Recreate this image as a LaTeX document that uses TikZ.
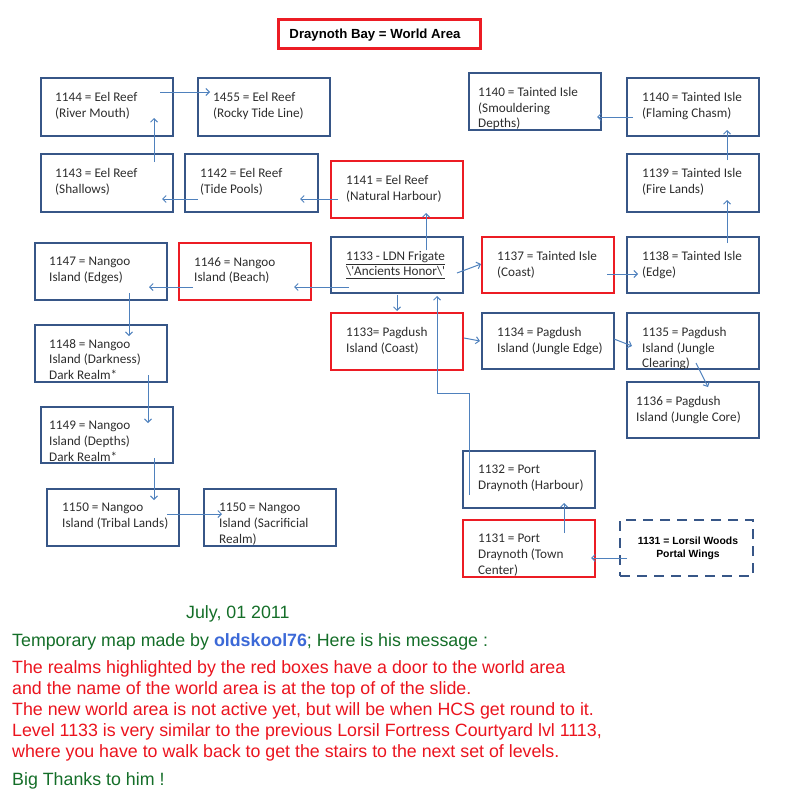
\documentclass[tikz,border=0pt]{standalone}
\usepackage{fontspec}
\setmainfont{Liberation Sans}
\newfontfamily\boxfont{Carlito}
\usetikzlibrary{arrows.meta,fit}
\definecolor{boxblue}{RGB}{55,86,135}
\definecolor{boxred}{RGB}{236,28,36}
\definecolor{arrowblue}{RGB}{79,129,189}
\definecolor{txtgray}{RGB}{45,45,45}
\definecolor{msggreen}{RGB}{20,110,40}
\definecolor{msgred}{RGB}{235,20,30}
\definecolor{msgblue}{RGB}{60,105,215}
\tikzset{
  room/.style={draw=boxblue, line width=2.6pt, inner sep=0pt, outer sep=0pt},
  door/.style={draw=boxred, line width=2.6pt, inner sep=0pt, outer sep=0pt},
  portal/.style={draw=boxblue, line width=2.6pt, dash pattern=on 10pt off 7pt,
    inner sep=0pt, outer sep=0pt},
  portaltxt/.style={inner sep=0pt, align=center, text=black,
    font=\bfseries\fontsize{10.4}{13}\selectfont},
  roomtxt/.style={anchor=north west, inner sep=0pt, align=left, text=txtgray,
    font=\boxfont\fontsize{13.2}{15.7}\selectfont},
  link/.style={draw=arrowblue, line width=1pt, -{Straight Barb[length=3.5pt,width=7pt]}},
  msg/.style={anchor=base west, inner sep=0pt, font=\fontsize{17.8}{21}\selectfont},
}
\newcommand\room[6]{%
  \node[#1, fit={#3 #4}] (#2) {};
  \node[roomtxt] (#2t) at ([shift={(#5,14)}]#2.north west) {#6};
}
\begin{document}
\begin{tikzpicture}[x=1pt, y=-1pt]
\useasboundingbox (0,0) rectangle (800,800);

% title
\node[door, line width=3pt, fit={(278,20) (480,49)}] (title) {};
\node[anchor=base, inner sep=0pt, text=black, font=\bfseries\fontsize{13.2}{15}\selectfont]
  (titlet) at (375,39) {Draynoth Bay = World Area};

% rooms
\room{room}{r1144}{(41,78)}{(173,136)}{14}{1144 = Eel Reef\\(River Mouth)}
\room{room}{r1455}{(198,78)}{(330,136)}{15}{1455 = Eel Reef\\(Rocky Tide Line)}
\room{room}{r1143}{(41,154)}{(173,212)}{14}{1143 = Eel Reef\\(Shallows)}
\room{room}{r1142}{(185,154)}{(318,212)}{15}{1142 = Eel Reef\\(Tide Pools)}
\room{door}{r1141}{(331,161)}{(463,218)}{15}{1141 = Eel Reef\\(Natural Harbour)}
\room{room}{r1140s}{(469,73)}{(601,130)}{9}{1140 = Tainted Isle\\(Smouldering\\Depths)}
\room{room}{r1140f}{(627,78)}{(759,136)}{15}{1140 = Tainted Isle\\(Flaming Chasm)}
\room{room}{r1139}{(627,154)}{(759,212)}{15}{1139 = Tainted Isle\\(Fire Lands)}
\room{room}{r1147}{(35,243)}{(167,300)}{14}{1147 = Nangoo\\Island (Edges)}
\room{door}{r1146}{(179,243)}{(311,300)}{15}{1146 = Nangoo\\Island (Beach)}
\room{room}{rldn}{(331,237)}{(463,293)}{15}{\underline{1133 - LDN Frigate}\\\underline{\textbackslash\textquotesingle Ancients Honor\textbackslash\textquotesingle}}
\room{door}{r1137}{(482,237)}{(614,293)}{15}{1137 = Tainted Isle\\(Coast)}
\room{room}{r1138}{(627,237)}{(759,293)}{15}{1138 = Tainted Isle\\(Edge)}
\room{room}{r1148}{(35,325)}{(167,382)}{14}{1148 = Nangoo\\Island (Darkness)\\Dark Realm*}
\room{door}{r1133}{(331,313)}{(463,370)}{15}{1133= Pagdush\\Island (Coast)}
\room{room}{r1134}{(482,313)}{(614,369)}{15}{1134 = Pagdush\\Island (Jungle Edge)}
\room{room}{r1135}{(627,313)}{(759,369)}{15}{1135 = Pagdush\\Island (Jungle\\Clearing)}
\room{room}{r1136}{(627,382)}{(759,438)}{9}{1136 = Pagdush\\Island (Jungle Core)}
\room{room}{r1149}{(41,407)}{(173,463)}{8}{1149 = Nangoo\\Island (Depths)\\Dark Realm*}
\room{room}{r1150t}{(47,489)}{(179,546)}{15}{1150 = Nangoo\\Island (Tribal Lands)}
\room{room}{r1150s}{(204,489)}{(336,546)}{15}{1150 = Nangoo\\Island (Sacrificial\\Realm)}
\room{room}{r1132}{(463,451)}{(595,508)}{15}{1132 = Port\\Draynoth (Harbour)}
\room{door}{r1131}{(463,520)}{(595,577)}{15}{1131 = Port\\Draynoth (Town\\Center)}
\node[portal, fit={(620,520) (753,576)}] (lorsil) {};
\node[portaltxt] (lorsilt) at (688,548) {1131 = Lorsil Woods\\Portal Wings};

% connector end points
\coordinate (a1s) at (160,92);  \coordinate (a1e) at (210,92);
\coordinate (a2s) at (154,162); \coordinate (a2e) at (154,118);
\coordinate (a3s) at (198,199); \coordinate (a3e) at (162,199);
\coordinate (a4s) at (338,199); \coordinate (a4e) at (300,199);
\coordinate (a5s) at (426,250); \coordinate (a5e) at (426,213);
\coordinate (a6s) at (633,117); \coordinate (a6e) at (597,117);
\coordinate (a7s) at (727,160); \coordinate (a7e) at (727,130);
\coordinate (a8s) at (727,243); \coordinate (a8e) at (727,200);
\coordinate (a9s) at (349,287); \coordinate (a9e) at (294,287);
\coordinate (a10s) at (193,287); \coordinate (a10e) at (149,287);
\coordinate (a11s) at (129,293); \coordinate (a11e) at (129,336);
\coordinate (a12s) at (148,375); \coordinate (a12e) at (148,423);
\coordinate (a13s) at (154,458); \coordinate (a13e) at (154,500);
\coordinate (a14s) at (167,514); \coordinate (a14e) at (222,514);
\coordinate (a15s) at (457,273); \coordinate (a15e) at (481,264);
\coordinate (a16s) at (607,274); \coordinate (a16e) at (638,274);
\coordinate (a17s) at (397,295); \coordinate (a17e) at (397,311);
\coordinate (a18s) at (464,338); \coordinate (a18e) at (480,341);
\coordinate (a19s) at (614,339); \coordinate (a19e) at (632,346);
\coordinate (a20s) at (696,363); \coordinate (a20e) at (708,387);
\coordinate (a21s) at (469,495); \coordinate (a21m) at (469,393); \coordinate (a21e) at (437,296);
\coordinate (a22s) at (564,533); \coordinate (a22e) at (564,503);
\coordinate (a23s) at (627,558); \coordinate (a23e) at (591,558);

% connectors
\draw[link] (a1s) -- (a1e);
\draw[link] (a2s) -- (a2e);
\draw[link] (a3s) -- (a3e);
\draw[link] (a4s) -- (a4e);
\draw[link] (a5s) -- (a5e);
\draw[link] (a6s) -- (a6e);
\draw[link] (a7s) -- (a7e);
\draw[link] (a8s) -- (a8e);
\draw[link] (a9s) -- (a9e);
\draw[link] (a10s) -- (a10e);
\draw[link] (a11s) -- (a11e);
\draw[link] (a12s) -- (a12e);
\draw[link] (a13s) -- (a13e);
\draw[link] (a14s) -- (a14e);
\draw[link] (a15s) -- (a15e);
\draw[link] (a16s) -- (a16e);
\draw[link] (a17s) -- (a17e);
\draw[link] (a18s) -- (a18e);
\draw[link] (a19s) -- (a19e);
\draw[link] (a20s) -- (a20e);
\draw[link] (a21s) -- (a21m) -| (a21e);
\draw[link] (a22s) -- (a22e);
\draw[link] (a23s) -- (a23e);

% message
\node[msg, text=msggreen] (date) at (186,618) {July, 01 2011};
\node[msg, text=msggreen] (made) at (12,646) {Temporary map made by {\bfseries\color{msgblue}oldskool76}; Here is his message :};
\node[msg, text=msgred] (m1) at (12,673) {The realms highlighted by the red boxes have a door to the world area};
\node[msg, text=msgred] (m2) at (12,694) {and the name of the world area is at the top of of the slide.};
\node[msg, text=msgred] (m3) at (12,715) {The new world area is not active yet, but will be when HCS get round to it.};
\node[msg, text=msgred] (m4) at (12,736) {Level 1133 is very similar to the previous Lorsil Fortress Courtyard lvl 1113,};
\node[msg, text=msgred] (m5) at (12,757) {where you have to walk back to get the stairs to the next set of levels.};
\node[msg, text=msggreen] (thanks) at (12,785) {Big Thanks to him !};
\end{tikzpicture}
\end{document}
